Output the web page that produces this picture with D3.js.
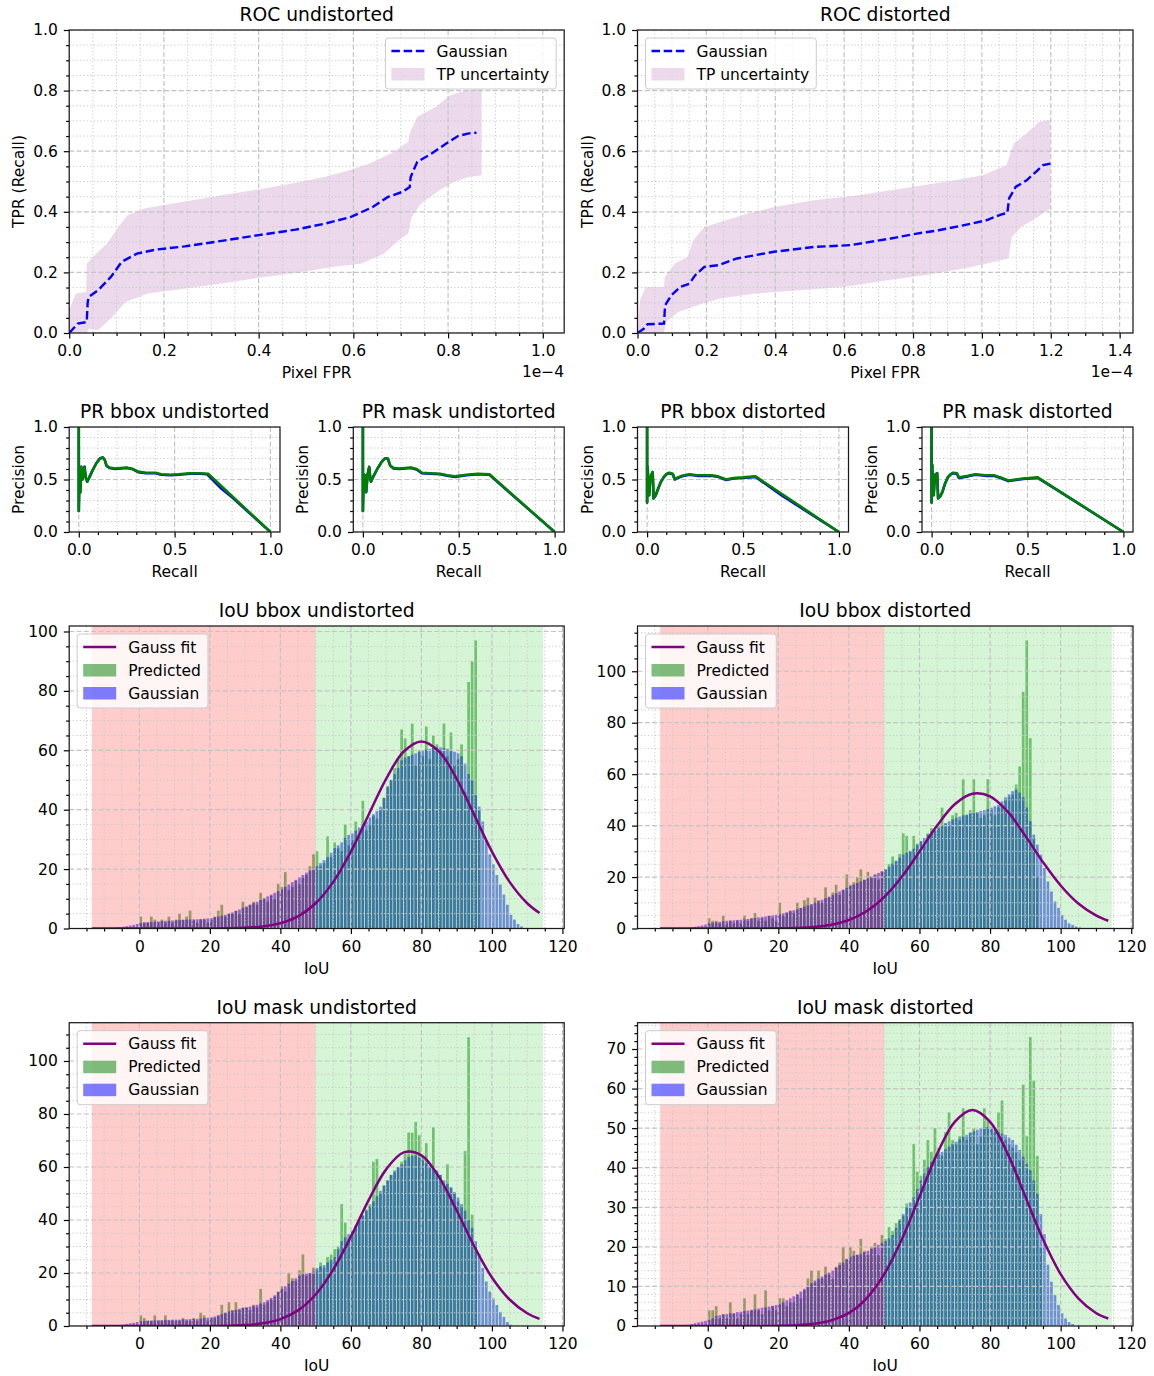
<!DOCTYPE html>
<meta charset="utf-8">
<html>
<head>
<script src="https://d3js.org/d3.v7.min.js"></script>
<style>
  body { margin: 0; background: #fff; }
  text { font-family: "DejaVu Sans", sans-serif; }
</style>
<title>ROC / PR / IoU</title>
</head>
<body>
<div id="fig"></div>
<script>
// ---------------- data ----------------
// ROC curves, x in units of 1e-4
var rocUndGauss = [[0,0],[0.018,0.031],[0.037,0.036],[0.039,0.1],[0.041,0.119],[0.061,0.141],[0.088,0.185],[0.111,0.235],[0.143,0.262],[0.182,0.275],[0.244,0.286],[0.322,0.304],[0.4,0.323],[0.478,0.341],[0.54,0.361],[0.595,0.383],[0.641,0.416],[0.673,0.449],[0.704,0.466],[0.719,0.482],[0.721,0.515],[0.735,0.565],[0.766,0.593],[0.797,0.626],[0.821,0.65],[0.844,0.659],[0.86,0.661]];
var rocUndUpper = [[0,0.075],[0.014,0.13],[0.036,0.135],[0.037,0.229],[0.057,0.262],[0.08,0.295],[0.104,0.35],[0.123,0.389],[0.158,0.411],[0.197,0.422],[0.26,0.438],[0.322,0.455],[0.4,0.474],[0.478,0.496],[0.54,0.516],[0.587,0.535],[0.634,0.559],[0.68,0.593],[0.716,0.631],[0.72,0.664],[0.735,0.714],[0.774,0.747],[0.805,0.785],[0.836,0.8],[0.871,0.807]];
var rocUndLower = [[0,0],[0.037,0],[0.041,0.014],[0.061,0.009],[0.08,0.036],[0.104,0.075],[0.119,0.102],[0.166,0.13],[0.244,0.146],[0.322,0.163],[0.4,0.182],[0.478,0.198],[0.556,0.218],[0.618,0.229],[0.665,0.262],[0.696,0.306],[0.716,0.328],[0.723,0.383],[0.743,0.427],[0.782,0.471],[0.813,0.499],[0.844,0.515],[0.871,0.521]];

var rocDistGauss = [[0,0],[0.018,0.014],[0.029,0.029],[0.077,0.031],[0.08,0.091],[0.098,0.124],[0.124,0.152],[0.151,0.163],[0.167,0.19],[0.194,0.218],[0.236,0.224],[0.289,0.246],[0.396,0.268],[0.513,0.284],[0.619,0.29],[0.736,0.312],[0.811,0.328],[0.874,0.339],[0.949,0.356],[1.013,0.372],[1.055,0.391],[1.074,0.396],[1.079,0.444],[1.098,0.482],[1.13,0.504],[1.157,0.532],[1.178,0.554],[1.199,0.559]];
var rocDistUpper = [[0.007,0.108],[0.023,0.152],[0.077,0.152],[0.079,0.185],[0.109,0.229],[0.146,0.251],[0.162,0.306],[0.194,0.35],[0.257,0.372],[0.321,0.394],[0.396,0.416],[0.513,0.438],[0.64,0.455],[0.768,0.477],[0.896,0.499],[1.002,0.521],[1.071,0.554],[1.093,0.626],[1.13,0.659],[1.167,0.697],[1.199,0.705]];
var rocDistLower = [[0,0],[0.077,0],[0.082,0.036],[0.119,0.069],[0.172,0.091],[0.236,0.113],[0.343,0.13],[0.47,0.141],[0.598,0.152],[0.726,0.174],[0.853,0.194],[0.97,0.218],[1.077,0.246],[1.087,0.317],[1.114,0.35],[1.162,0.383],[1.199,0.411]];

// PR curves [recall, precision]
var prBboxUndPred = [[0,1],[0,0.2],[0.004,0.6],[0.008,0.38],[0.013,0.62],[0.019,0.5],[0.025,0.56],[0.03,0.62],[0.036,0.52],[0.044,0.48],[0.055,0.52],[0.07,0.58],[0.09,0.65],[0.11,0.7],[0.125,0.71],[0.135,0.69],[0.145,0.63],[0.16,0.615],[0.19,0.605],[0.22,0.61],[0.25,0.615],[0.28,0.6],[0.31,0.575],[0.35,0.565],[0.4,0.565],[0.43,0.55],[0.48,0.545],[0.52,0.55],[0.58,0.56],[0.63,0.56],[0.675,0.555],[1,0]];
var prBboxUndGauss = [[0,1],[0,0.2],[0.004,0.6],[0.008,0.38],[0.013,0.62],[0.019,0.5],[0.025,0.56],[0.03,0.62],[0.036,0.52],[0.044,0.48],[0.055,0.52],[0.07,0.58],[0.09,0.65],[0.11,0.7],[0.125,0.71],[0.135,0.69],[0.145,0.63],[0.16,0.61],[0.19,0.6],[0.22,0.605],[0.25,0.61],[0.28,0.6],[0.31,0.57],[0.35,0.56],[0.4,0.56],[0.43,0.545],[0.48,0.54],[0.52,0.545],[0.58,0.555],[0.63,0.555],[0.67,0.55],[0.74,0.42],[0.8,0.33],[1,0]];
var prMaskUndPred = [[0,1],[0,0.2],[0.004,0.55],[0.008,0.4],[0.013,0.54],[0.017,0.38],[0.025,0.55],[0.033,0.62],[0.038,0.52],[0.042,0.48],[0.055,0.53],[0.075,0.6],[0.095,0.66],[0.114,0.7],[0.13,0.7],[0.143,0.63],[0.16,0.61],[0.19,0.605],[0.22,0.61],[0.25,0.615],[0.28,0.6],[0.307,0.565],[0.35,0.56],[0.403,0.555],[0.44,0.54],[0.48,0.53],[0.54,0.545],[0.6,0.555],[0.66,0.55],[1,0]];
var prMaskUndGauss = [[0,1],[0,0.2],[0.004,0.55],[0.008,0.4],[0.013,0.54],[0.017,0.38],[0.025,0.55],[0.033,0.62],[0.038,0.52],[0.042,0.48],[0.055,0.53],[0.075,0.6],[0.095,0.66],[0.114,0.7],[0.13,0.7],[0.143,0.63],[0.16,0.605],[0.19,0.6],[0.22,0.605],[0.25,0.61],[0.28,0.595],[0.307,0.56],[0.35,0.555],[0.403,0.55],[0.44,0.535],[0.48,0.525],[0.54,0.54],[0.6,0.55],[0.66,0.545],[0.75,0.4],[1,0]];
var prBboxDistPred = [[0,1],[0,0.28],[0.003,0.62],[0.006,0.45],[0.011,0.35],[0.016,0.5],[0.021,0.54],[0.029,0.57],[0.034,0.32],[0.045,0.35],[0.057,0.41],[0.07,0.47],[0.086,0.52],[0.1,0.55],[0.115,0.565],[0.134,0.555],[0.144,0.505],[0.16,0.52],[0.182,0.535],[0.22,0.55],[0.26,0.54],[0.335,0.54],[0.37,0.53],[0.412,0.5],[0.45,0.515],[0.5,0.52],[0.565,0.53],[1,0]];
var prBboxDistGauss = [[0,1],[0,0.28],[0.003,0.62],[0.006,0.45],[0.011,0.35],[0.016,0.5],[0.021,0.54],[0.029,0.57],[0.034,0.32],[0.045,0.35],[0.057,0.41],[0.07,0.47],[0.086,0.52],[0.1,0.55],[0.115,0.56],[0.134,0.55],[0.144,0.5],[0.16,0.515],[0.182,0.53],[0.22,0.545],[0.26,0.535],[0.335,0.535],[0.37,0.525],[0.412,0.495],[0.45,0.51],[0.5,0.515],[0.565,0.525],[0.7,0.35],[1,0]];
var prMaskDistPred = [[0,1],[0,0.28],[0.003,0.64],[0.006,0.45],[0.011,0.35],[0.016,0.5],[0.021,0.55],[0.029,0.56],[0.034,0.32],[0.045,0.34],[0.056,0.38],[0.07,0.46],[0.084,0.52],[0.1,0.55],[0.113,0.565],[0.132,0.56],[0.142,0.52],[0.16,0.525],[0.19,0.535],[0.228,0.55],[0.28,0.54],[0.324,0.54],[0.36,0.52],[0.4,0.49],[0.44,0.5],[0.477,0.51],[0.553,0.52],[1,0]];
var prMaskDistGauss = [[0,1],[0,0.28],[0.003,0.64],[0.006,0.45],[0.011,0.35],[0.016,0.5],[0.021,0.55],[0.029,0.56],[0.034,0.32],[0.045,0.34],[0.056,0.38],[0.07,0.46],[0.084,0.52],[0.1,0.55],[0.113,0.56],[0.132,0.555],[0.142,0.515],[0.16,0.52],[0.19,0.53],[0.228,0.545],[0.28,0.535],[0.324,0.535],[0.36,0.515],[0.4,0.485],[0.44,0.495],[0.477,0.505],[0.553,0.515],[0.68,0.37],[1,0]];

// IoU histograms, bins of width 1
var predStart = 0;   // Predicted counts, bins 0..99
var gaussStart = -8; // Gaussian counts, bins from -8

var bboxUndPred = [4,2,2,4,3,2,3,2,4,2, 3,5,3,4,6,3,2,3,3,2, 3,4,6,8,4,5,5,6,5,9, 7,8,9,8,12,10,9,11,10,15,
  14,19,13,14,16,15,17,18,21,25, 26,21,22,31,24,29,27,26,35,28, 30,36,31,43,33,35,38,37,40,44,
  48,50,54,57,67,64,58,69,55,60, 58,68,57,65,62,60,69,58,66,55, 57,62,46,83,90,97,40,0,0,0];
var bboxUndGauss = [0.2,0.3,0.5,0.6,0.8,1,1.2,1.5,
  1.8,2,2.1,2.2,2.3,2.4,2.5,2.6,2.6,2.7, 2.8,2.8,2.9,3,3,3,3.1,3.2,3.3,3.4,
  3.5,3.8,4,4.3,4.6,5,5.4,5.9,6.4,7, 7.5,8,8.5,9,9.6,10.2,10.8,11.4,12,12.6,
  13.2,14,14.8,15.6,16.4,17.2,18,18.8,19.5,20.3, 21,22,23,24,25.5,27,28,29,30.5,31.5,
  32,33,34,35,36,37.4,38.5,39.5,41,44, 47.6,50,52,54,56.6,57.5,58,58.5,59,59.5,
  60,60.3,60.5,60.8,61,61,60.8,60.5,60,59.5, 59,58,55.5,52,50,45,41,36,29.5,25,
  21.6,18,14.8,11.4,8,4.6,3,1.5,0.7];

var bboxDistPred = [4,3,3,2,5,2,3,2,3,2, 5,3,4,6,3,4,3,5,4,3, 10,5,6,7,6,10,8,11,12,9, 12,11,10,16,12,14,17,13,15,21,
  17,18,20,23,19,22,20,21,19,22, 23,25,28,26,29,37,36,30,36,33, 34,32,37,39,38,40,47,41,40,44,
  45,42,58,44,46,58,45,43,44,58, 46,44,47,48,50,51,52,56,63,92, 112,74,35,20,0,0,0,0,0,0];
var bboxDistGauss = [0.1,0.2,0.3,0.5,0.7,0.9,1.2,1.5,
  2,2.2,2.4,2.6,2.8,3,3.1,3.2,3.3,3.4, 3.5,3.7,3.9,4.1,4.3,4.5,4.7,4.9,5.1,5.3,
  5.5,5.9,6.3,6.7,7.1,7.5,8,8.5,9,9.5, 10,10.6,11.2,11.8,12.4,13,13.7,14.4,15.1,15.8,
  16.5,17.1,17.7,18.3,18.9,19.5,20.2,20.9,21.6,22.3, 22.9,24,25.2,26.4,27.6,28.7,29.5,30.2,31,32.5,
  34,35.2,36.5,37.3,38.2,39,39.9,40.8,41.7,42.4, 43,43.5,44,44.3,44.7,45,45.3,45.7,46,46.5,
  47,47.5,48,49.5,51,52.2,53.4,54,52.8,51, 47,41.7,36.5,32.6,28.7,23.5,18.3,14.4,10.5,8,
  5.3,3.4,2,1.4,0.8,0.4];

var maskUndPred = [4,3,2,2,4,2,2,4,2,2, 2,2,3,2,2,3,2,5,4,2, 3,3,4,8,5,9,6,9,6,7, 7,6,8,7,14,8,9,10,11,13,
  15,13,20,18,17,21,27,19,20,22, 21,24,22,26,27,29,30,46,39,33, 34,38,40,42,44,46,62,63,50,53,
  55,57,58,60,62,65,73,73,77,72, 64,69,60,75,58,57,53,61,52,50, 47,45,66,109,42,30,0,0,0,0];
var maskUndGauss = [0.1,0.2,0.3,0.5,0.8,1,1.2,1.5,
  1.8,1.9,2,2,2.1,2.2,2.2,2.3,2.3,2.4, 2.4,2.4,2.5,2.5,2.6,2.6,2.7,2.8,3,3.1,
  3.3,3.6,4,4.5,5,5.5,5.8,6.1,6.5,6.8, 7,7.3,7.6,8,8.5,9,9.8,10.6,11.6,12.8,
  14,15,16,17,18,19,19.5,19.8,20,20.5, 21.9,22.5,23,24,25,26,29,32,33.5,34.6,
  35.8,37.7,39.6,41.5,43.5,45.2,47,49,51,53, 55,57,58.7,60,61,62.5,63.8,64.2,64.4,63.5,
  62.5,61.5,60.6,59.6,58.7,57,55,53.6,52.4,50.5, 48.5,46,43.5,40,37,32,27,21.9,16.8,13,
  10.4,7.9,5.3,3.4,1.5,0.5];

var maskDistPred = [4,4,5,2,3,2,6,3,2,3, 7,3,4,8,4,3,9,4,5,4, 7,7,5,6,6,8,7,9,12,14, 11,14,12,15,13,12,15,16,20,17,
  20,19,18,22,19,18,20,21,18,23, 22,25,24,26,27,28,31,30,46,39, 38,42,47,44,50,45,43,49,54,47,
  46,48,55,47,49,50,46,48,55,52, 50,49,54,57,47,46,45,44,42,61, 48,73,62,43,20,0,0,0,0,0];
var maskDistGauss = [0.1,0.2,0.3,0.5,0.7,0.9,1.1,1.3,
  1.5,2,2.5,2.7,2.9,3,3.2,3.3,3.5,3.6, 3.8,3.9,4.1,4.2,4.4,4.6,4.7,4.9,5.1,5.3,
  5.5,6,6.5,7,7.5,8,8.7,9.4,10,10.8, 11.5,12,12.5,13,13.5,14,14.7,15.4,16,16.8,
  17.5,17.8,18,18.3,18.6,19,19.5,20,20.5,21, 21.5,22.2,23,24.8,26.6,28.3,30,31.2,32.5,34.6,
  36.8,38.5,40.2,41.5,42.8,43.4,44,44.7,45.3,46, 46.6,47.2,47.9,48.3,48.7,49.2,49.6,50,50.3,50.3,
  50.3,49.6,49,48.6,48.3,47.6,47,45.8,44.5,42.8, 41,39.4,36.8,33.4,28.3,23.2,15.5,11.2,7.8,5.3,
  3.2,1.9,1,0.5];

// Gauss fit curves, sampled along fitX
var fitX = [-13.5,-5,0,5,10,15,20,25,30,35,40,45,50,55,60,65,70,75,80,85,90,95,100,105,110,113.5];
var bboxUndFit  = [0,0,0,0,0,0,0.02,0.08,0.24,0.7,1.8,4.1,8.5,15.7,25.9,38.2,50.4,59.6,63,59.6,50.4,38.2,25.9,15.7,8.5,5.2];
var bboxDistFit = [0,0,0,0,0,0.01,0.07,0.21,0.58,1.45,3.3,6.7,12.2,20.1,29.9,40,48.3,52.4,51.4,45.4,36,25.8,16.7,9.7,5.1,3.0];
var maskUndFit  = [0,0,0,0,0,0,0.03,0.11,0.36,1.0,2.6,5.9,11.9,21.3,33.7,47.4,59.1,65.5,64.4,56.2,43.6,30,18.3,10,4.8,2.7];
var maskDistFit = [0,0,0,0,0,0,0.05,0.18,0.54,1.42,3.3,7,13.1,21.9,32.7,43.5,51.6,54.6,51.6,43.5,32.7,21.9,13.1,7,3.3,1.9];

// threshold regions on the IoU axis
var spanBad = [-13.5, 50], spanGood = [50, 114.5];

// ---------------- drawing ----------------
var FS = 15.5, TFS = 18.7;
var W = 1154, H = 1376;
var svg = d3.select("#fig").append("svg").attr("width", W).attr("height", H);
svg.append("rect").attr("width", W).attr("height", H).attr("fill", "#fff");
var clipN = 0;

function ticks(dom, step) {
  var a = Math.ceil(dom[0] / step - 1e-9), b = Math.floor(dom[1] / step + 1e-9);
  return d3.range(a, b + 1).map(function (k) { return +(k * step).toFixed(6); });
}
function minors(dom, step, sub) {
  return ticks(dom, sub).filter(function (v) { return Math.abs(v / step - Math.round(v / step)) > 1e-6; });
}

// one set of axes: patches -> grid -> lines -> spines/ticks
function panel(o) {
  var x = d3.scaleLinear().domain(o.xdom).range([o.x0, o.x1]);
  var y = d3.scaleLinear().domain(o.ydom).range([o.y1, o.y0]);
  var id = "clip" + (clipN++);
  svg.append("clipPath").attr("id", id).append("rect")
    .attr("x", o.x0).attr("y", o.y0).attr("width", o.x1 - o.x0).attr("height", o.y1 - o.y0);
  function layer() { return svg.append("g").attr("clip-path", "url(#" + id + ")"); }
  var patches = layer(), grid = layer(), lines = layer();

  var xMaj = ticks(o.xdom, o.xStep), xMin = minors(o.xdom, o.xStep, o.xSub);
  var yMaj = ticks(o.ydom, o.yStep), yMin = minors(o.ydom, o.yStep, o.ySub);

  // minor grid dotted, major grid dashed
  grid.selectAll(".gxm").data(xMin).join("line")
    .attr("x1", x).attr("x2", x).attr("y1", o.y0).attr("y2", o.y1)
    .attr("stroke", "#c8c8c8").attr("stroke-width", 1).attr("stroke-dasharray", "1.2,2.3");
  grid.selectAll(".gym").data(yMin).join("line")
    .attr("y1", y).attr("y2", y).attr("x1", o.x0).attr("x2", o.x1)
    .attr("stroke", "#c8c8c8").attr("stroke-width", 1).attr("stroke-dasharray", "1.2,2.3");
  grid.selectAll(".gx").data(xMaj).join("line")
    .attr("x1", x).attr("x2", x).attr("y1", o.y0).attr("y2", o.y1)
    .attr("stroke", "#c4c4c4").attr("stroke-width", 1.2).attr("stroke-dasharray", "5,2.3");
  grid.selectAll(".gy").data(yMaj).join("line")
    .attr("y1", y).attr("y2", y).attr("x1", o.x0).attr("x2", o.x1)
    .attr("stroke", "#c4c4c4").attr("stroke-width", 1.2).attr("stroke-dasharray", "5,2.3");

  var deco = svg.append("g");
  function styleAxis(g) {
    g.select(".domain").remove();
    g.attr("font-family", "DejaVu Sans, sans-serif").attr("font-size", FS);
    g.selectAll(".tick line").attr("stroke", "#000").attr("stroke-width", 1.2);
    g.selectAll(".tick text").attr("fill", "#000");
  }
  deco.append("g").attr("transform", "translate(0," + o.y1 + ")")
    .call(d3.axisBottom(x).tickValues(xMin).tickFormat("").tickSize(3.1)).call(styleAxis);
  deco.append("g").attr("transform", "translate(" + o.x0 + ",0)")
    .call(d3.axisLeft(y).tickValues(yMin).tickFormat("").tickSize(3.1)).call(styleAxis);
  deco.append("g").attr("transform", "translate(0," + o.y1 + ")")
    .call(d3.axisBottom(x).tickValues(xMaj).tickFormat(o.xfmt).tickSize(5.4).tickPadding(7)).call(styleAxis);
  deco.append("g").attr("transform", "translate(" + o.x0 + ",0)")
    .call(d3.axisLeft(y).tickValues(yMaj).tickFormat(o.yfmt).tickSize(5.4).tickPadding(6)).call(styleAxis);

  deco.append("rect").attr("x", o.x0).attr("y", o.y0)
    .attr("width", o.x1 - o.x0).attr("height", o.y1 - o.y0)
    .attr("fill", "none").attr("stroke", "#1a1a1a").attr("stroke-width", 1.25);

  deco.append("text").attr("x", (o.x0 + o.x1) / 2).attr("y", o.y0 - 9)
    .attr("text-anchor", "middle").attr("font-size", TFS).text(o.title);
  if (o.xlabel) deco.append("text").attr("x", (o.x0 + o.x1) / 2).attr("y", o.y1 + 45)
    .attr("text-anchor", "middle").attr("font-size", FS).text(o.xlabel);
  if (o.ylabel) deco.append("text")
    .attr("transform", "translate(" + (o.x0 - 45) + "," + ((o.y0 + o.y1) / 2) + ") rotate(-90)")
    .attr("text-anchor", "middle").attr("font-size", FS).text(o.ylabel);
  if (o.offset) deco.append("text").attr("x", o.x1).attr("y", o.y1 + 44)
    .attr("text-anchor", "end").attr("font-size", FS).text(o.offset);

  return { x: x, y: y, o: o, patches: patches, grid: grid, lines: lines };
}

function legend(ax, items, side) {
  var o = ax.o, rowH = 23;
  var g = svg.append("g");
  var box = g.append("rect");
  var texts = items.map(function (it) {
    return g.append("text").attr("font-size", FS).text(it.label);
  });
  var tw = d3.max(texts, function (t) { return t.node().getComputedTextLength(); });
  var bw = 51 + tw + 7, bh = items.length * rowH + 5;
  var left = side === "left" ? o.x0 + 8 : o.x1 - 8 - bw;
  var top = o.y0 + 8;
  box.attr("x", left).attr("y", top).attr("width", bw).attr("height", bh)
    .attr("rx", 3).attr("fill", "#fff").attr("fill-opacity", 0.8)
    .attr("stroke", "#cccccc").attr("stroke-width", 1);
  items.forEach(function (it, i) {
    var cy = top + 13 + rowH * i;
    if (it.type === "line") {
      g.append("line").attr("x1", left + 6).attr("x2", left + 39).attr("y1", cy).attr("y2", cy)
        .attr("stroke", it.color).attr("stroke-width", it.width)
        .attr("stroke-dasharray", it.dash || null);
    } else {
      g.append("rect").attr("x", left + 6).attr("y", cy - 6).attr("width", 33).attr("height", 12.5)
        .attr("fill", it.color).attr("fill-opacity", it.opacity);
    }
    texts[i].attr("x", left + 51).attr("y", cy + 5.6);
  });
}

var fmt1 = d3.format(".1f"), fmt0 = d3.format("d");
var LX = [69.2, 564.2], RX = [637.5, 1133];

// ---- ROC ----
function rocPanel(xs, title, gauss, upper, lower, legendSide) {
  var maxX = d3.max(upper.concat(lower), function (d) { return d[0]; });
  var ax = panel({ x0: xs[0], x1: xs[1], y0: 30, y1: 333, xdom: [0, maxX * 1.2], ydom: [0, 1],
    xStep: 0.2, xSub: 0.05, yStep: 0.2, ySub: 0.05, xfmt: fmt1, yfmt: fmt1,
    title: title, xlabel: "Pixel FPR", ylabel: "TPR (Recall)", offset: "1e\u22124" });
  var band = upper.concat(lower.slice().reverse());
  var line = d3.line().x(function (d) { return ax.x(d[0]); }).y(function (d) { return ax.y(d[1]); });
  ax.patches.append("path").attr("d", line(band) + "Z")
    .attr("fill", "purple").attr("fill-opacity", 0.15);
  ax.lines.append("path").attr("d", line(gauss)).attr("fill", "none")
    .attr("stroke", "blue").attr("stroke-width", 2.4).attr("stroke-dasharray", "8.5,3.7");
  legend(ax, [
    { type: "line", label: "Gaussian", color: "blue", width: 2.4, dash: "8.5,3.7" },
    { type: "patch", label: "TP uncertainty", color: "purple", opacity: 0.15 }
  ], legendSide);
}
rocPanel(LX, "ROC undistorted", rocUndGauss, rocUndUpper, rocUndLower, "right");
rocPanel(RX, "ROC distorted", rocDistGauss, rocDistUpper, rocDistLower, "left");

// ---- PR ----
function prPanel(x0, x1, title, gauss, pred) {
  var ax = panel({ x0: x0, x1: x1, y0: 427, y1: 532, xdom: [-0.05, 1.05], ydom: [0, 1],
    xStep: 0.5, xSub: 0.1, yStep: 0.5, ySub: 0.1, xfmt: fmt1, yfmt: fmt1,
    title: title, xlabel: "Recall", ylabel: "Precision" });
  var line = d3.line().x(function (d) { return ax.x(d[0]); }).y(function (d) { return ax.y(d[1]); });
  ax.lines.append("path").attr("d", line(gauss)).attr("fill", "none")
    .attr("stroke", "blue").attr("stroke-width", 2.6).attr("stroke-linejoin", "round");
  ax.lines.append("path").attr("d", line(pred)).attr("fill", "none")
    .attr("stroke", "green").attr("stroke-width", 2.6).attr("stroke-linejoin", "round");
}
prPanel(69.2, 280, "PR bbox undistorted", prBboxUndGauss, prBboxUndPred);
prPanel(353.3, 564.2, "PR mask undistorted", prMaskUndGauss, prMaskUndPred);
prPanel(637.5, 848.5, "PR bbox distorted", prBboxDistGauss, prBboxDistPred);
prPanel(922, 1133, "PR mask distorted", prMaskDistGauss, prMaskDistPred);

// ---- IoU histograms ----
function histPanel(xs, y0, y1, title, pred, gauss, fit, yStep, ySub) {
  var ymax = d3.max(pred.concat(gauss)) * 1.05;
  var ax = panel({ x0: xs[0], x1: xs[1], y0: y0, y1: y1, xdom: [-19.9, 120.5], ydom: [0, ymax],
    xStep: 20, xSub: 5, yStep: yStep, ySub: ySub, xfmt: fmt0, yfmt: fmt0,
    title: title, xlabel: "IoU" });
  var bw = ax.x(1) - ax.x(0);
  function bars(vals, start, color) {
    var data = vals.map(function (v, i) { return { b: start + i, v: v }; })
      .filter(function (d) { return d.v > 0; });
    ax.patches.append("g").selectAll("rect").data(data).join("rect")
      .attr("x", function (d) { return ax.x(d.b); })
      .attr("width", bw - 0.8)
      .attr("y", function (d) { return ax.y(d.v); })
      .attr("height", function (d) { return ax.y(0) - ax.y(d.v); })
      .attr("fill", color).attr("fill-opacity", 0.5);
  }
  bars(pred, predStart, "green");
  bars(gauss, gaussStart, "blue");
  ax.patches.append("rect").attr("x", ax.x(spanBad[0])).attr("width", ax.x(spanBad[1]) - ax.x(spanBad[0]))
    .attr("y", y0).attr("height", y1 - y0).attr("fill", "red").attr("fill-opacity", 0.2);
  ax.patches.append("rect").attr("x", ax.x(spanGood[0])).attr("width", ax.x(spanGood[1]) - ax.x(spanGood[0]))
    .attr("y", y0).attr("height", y1 - y0).attr("fill", "limegreen").attr("fill-opacity", 0.2);
  var line = d3.line().curve(d3.curveCatmullRom.alpha(0.5))
    .x(function (d, i) { return ax.x(fitX[i]); }).y(function (d) { return ax.y(d); });
  ax.lines.append("path").attr("d", line(fit)).attr("fill", "none")
    .attr("stroke", "purple").attr("stroke-width", 2.5);
  legend(ax, [
    { type: "line", label: "Gauss fit", color: "purple", width: 2.5 },
    { type: "patch", label: "Predicted", color: "green", opacity: 0.5 },
    { type: "patch", label: "Gaussian", color: "blue", opacity: 0.5 }
  ], "left");
}
histPanel(LX, 626, 928.5, "IoU bbox undistorted", bboxUndPred, bboxUndGauss, bboxUndFit, 20, 5);
histPanel(RX, 626, 928.5, "IoU bbox distorted", bboxDistPred, bboxDistGauss, bboxDistFit, 20, 5);
histPanel(LX, 1022.7, 1326, "IoU mask undistorted", maskUndPred, maskUndGauss, maskUndFit, 20, 5);
histPanel(RX, 1022.7, 1326, "IoU mask distorted", maskDistPred, maskDistGauss, maskDistFit, 10, 2);
</script>
</body>
</html>
